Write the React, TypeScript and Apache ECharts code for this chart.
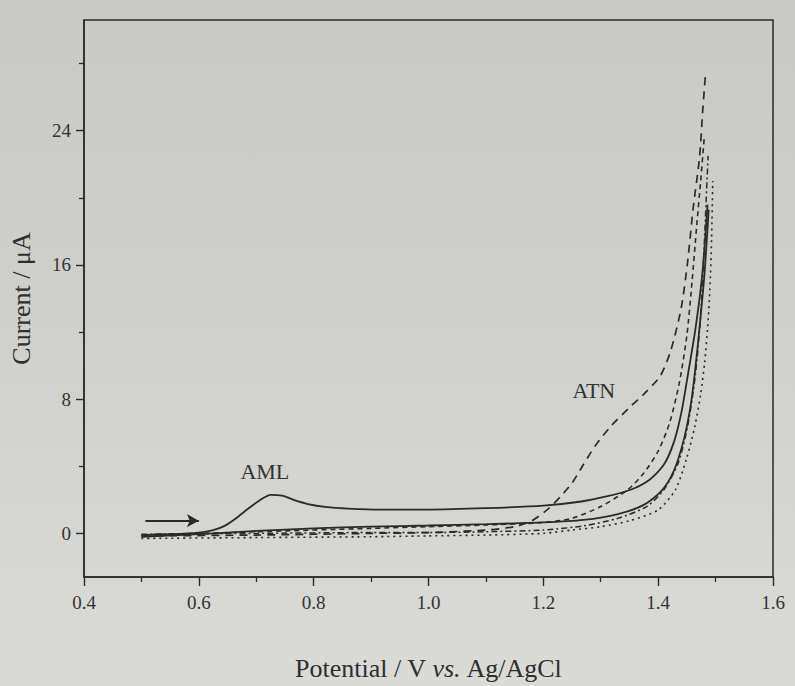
import React, { useEffect, useRef } from "react";
import * as echarts from "echarts";

// ---- data (Potential / V, Current / µA) ----
const amlCurve: [number, number][] = [
  [0.5, -0.1], [0.55, -0.05], [0.6, 0.05], [0.625, 0.2], [0.645, 0.45], [0.665, 0.9],
  [0.685, 1.45], [0.705, 1.95], [0.725, 2.3], [0.745, 2.25], [0.765, 2.0], [0.79, 1.75],
  [0.82, 1.58], [0.86, 1.48], [0.92, 1.42], [1.0, 1.42], [1.1, 1.5], [1.2, 1.65],
  [1.266, 1.9], [1.31, 2.2], [1.352, 2.6], [1.385, 3.2], [1.41, 4.1], [1.428, 5.5],
  [1.441, 7.3], [1.452, 9.5], [1.465, 12.2], [1.477, 15.5], [1.486, 19.6],
];
const blankCurve: [number, number][] = [
  [0.5, -0.2], [0.6, -0.05], [0.7, 0.15], [0.8, 0.3], [0.9, 0.4], [1.0, 0.47],
  [1.1, 0.55], [1.2, 0.65], [1.27, 0.8], [1.33, 1.15], [1.375, 1.7], [1.405, 2.5],
  [1.427, 3.7], [1.444, 5.5], [1.456, 7.5], [1.464, 9.6], [1.473, 12.6], [1.481, 15.6],
  [1.488, 19.3],
];
const atnCurve: [number, number][] = [
  [0.5, -0.15], [0.7, -0.1], [0.9, 0.0], [1.0, 0.05], [1.1, 0.2], [1.15, 0.4],
  [1.18, 0.75], [1.21, 1.5], [1.23, 2.2], [1.25, 3.0], [1.268, 4.0], [1.29, 5.2],
  [1.318, 6.4], [1.35, 7.5], [1.378, 8.4], [1.404, 9.4], [1.422, 10.9], [1.44, 13.4],
  [1.451, 16.1], [1.461, 19.4], [1.472, 22.4], [1.478, 25.4], [1.482, 27.2],
];
const mixCurve: [number, number][] = [
  [0.5, -0.1], [0.7, 0.1], [0.9, 0.3], [1.0, 0.4], [1.1, 0.5], [1.2, 0.65],
  [1.25, 0.9], [1.3, 1.6], [1.347, 2.6], [1.375, 3.6], [1.4, 4.9], [1.42, 6.6],
  [1.437, 9.0], [1.45, 11.8], [1.459, 15], [1.467, 18.3], [1.474, 21], [1.48, 23.5],
];
const dottedCurve: [number, number][] = [
  [0.5, -0.3], [0.7, -0.25], [0.9, -0.2], [1.0, -0.15], [1.1, -0.1], [1.2, 0.0],
  [1.25, 0.2], [1.3, 0.4], [1.35, 0.75], [1.4, 1.4], [1.43, 2.6], [1.449, 4.4],
  [1.464, 6.4], [1.474, 8.3], [1.481, 10.2], [1.486, 12.2], [1.49, 14.5], [1.493, 17.5],
  [1.495, 21],
];
const dashDotCurve: [number, number][] = [
  [0.5, -0.05], [0.7, 0.0], [0.9, 0.05], [1.0, 0.05], [1.1, 0.1], [1.2, 0.2],
  [1.27, 0.45], [1.33, 0.9], [1.38, 1.6], [1.41, 2.6], [1.435, 4.2], [1.452, 6.5],
  [1.465, 9.5], [1.474, 13], [1.48, 17], [1.485, 21], [1.487, 22.5],
];
const arrowStart: [number, number] = [0.507, 0.76];
const arrowEnd: [number, number] = [0.6, 0.76];
const amlLabelPos: [number, number] = [0.715, 3.7];
const atnLabelPos: [number, number] = [1.288, 8.5];
const xMin = 0.4, xMax = 1.6, xStep = 0.2;
const yMin = -2.6, yMax = 30.6;
const yMajorTicks = [0, 8, 16, 24];
const yMinorTicks = [4, 12, 20, 28];

const INK = "#2a2a2a";
const FONT = "'Liberation Serif', 'DejaVu Serif', serif";

export default function App() {
  const ref = useRef<HTMLDivElement>(null);
  useEffect(() => {
    if (!ref.current) return;
    const chart = echarts.init(ref.current, undefined, { renderer: "svg" });
    const line = (name: string, data: [number, number][], type: any, width = 1.6, extra: any = {}) => ({
      name,
      type: "line",
      data,
      showSymbol: false,
      symbol: "none",
      smooth: 0.25,
      lineStyle: { color: INK, width, type },
      z: 3,
      ...extra,
    });
    chart.setOption({
      animation: false,
      backgroundColor: "transparent",
      grid: { left: 80, right: 22, top: 20, bottom: 101, show: true, borderColor: INK, borderWidth: 1.5, backgroundColor: "transparent" },
      xAxis: {
        type: "value",
        min: xMin,
        max: xMax,
        interval: xStep,
        name: "Potential / V {i|vs.} Ag/AgCl",
        nameLocation: "middle",
        nameGap: 78,
        nameTextStyle: {
          fontFamily: FONT, fontSize: 26, color: "#2e2e2e",
          rich: { i: { fontStyle: "italic", fontFamily: FONT, fontSize: 26, color: "#2e2e2e" } },
        },
        axisLine: { show: true, onZero: false, lineStyle: { color: INK, width: 1.5 } },
        axisTick: { show: true, inside: false, length: 9, lineStyle: { color: INK, width: 1.4 } },
        minorTick: { show: true, splitNumber: 2, length: 5, lineStyle: { color: INK, width: 1.3 } },
        axisLabel: { fontFamily: FONT, fontSize: 19, color: "#333", margin: 16, formatter: (v: number) => v.toFixed(1) },
        splitLine: { show: false },
      },
      yAxis: [
        {
          type: "value",
          min: yMin,
          max: yMax,
          name: "Current / μA",
          nameLocation: "middle",
          nameGap: 50,
          nameTextStyle: { fontFamily: FONT, fontSize: 26, color: "#2e2e2e" },
          axisLine: { show: true, onZero: false, lineStyle: { color: INK, width: 1.5 } },
          axisTick: { show: true, inside: false, length: 8, customValues: yMajorTicks, lineStyle: { color: INK, width: 1.4 } },
          axisLabel: { fontFamily: FONT, fontSize: 19, color: "#333", margin: 13, customValues: yMajorTicks },
          splitLine: { show: false },
        },
        {
          type: "value",
          min: yMin,
          max: yMax,
          position: "left",
          axisLine: { show: false, onZero: false },
          axisTick: { show: true, inside: false, length: 5, customValues: yMinorTicks, lineStyle: { color: INK, width: 1.3 } },
          axisLabel: { show: false },
          splitLine: { show: false },
        },
      ],
      series: [
        line("AML", amlCurve, "solid", 1.8, {
          markLine: {
            silent: true,
            symbol: ["none", "arrow"],
            symbolSize: [10, 12],
            lineStyle: { color: INK, width: 1.8, type: "solid" },
            label: { show: false },
            data: [[{ coord: arrowStart }, { coord: arrowEnd }]],
          },
          markPoint: {
            symbol: "circle",
            symbolSize: 0,
            label: { show: true, position: "inside", fontFamily: FONT, fontSize: 22, color: "#333" },
            data: [
              { coord: amlLabelPos, value: "AML", label: { formatter: "AML" } },
              { coord: atnLabelPos, value: "ATN", label: { formatter: "ATN" } },
            ],
          },
        }),
        line("Blank", blankCurve, "solid", 1.8),
        line("ATN", atnCurve, [8, 6], 1.7),
        line("Mixture", mixCurve, [5, 4], 1.6),
        line("Dotted", dottedCurve, [2, 4], 1.6),
        line("DashDot", dashDotCurve, [6, 3, 2, 3], 1.5),
      ],
    });
    return () => chart.dispose();
  }, []);
  return (
    <div
      style={{
        position: "absolute",
        left: 0,
        top: 0,
        width: 795,
        height: 686,
        background: "linear-gradient(180deg, #c9c9c5 0%, #cfcfcb 45%, #dadad6 100%)",
      }}
    >
      <div ref={ref} style={{ width: 795, height: 686 }} />
    </div>
  );
}
